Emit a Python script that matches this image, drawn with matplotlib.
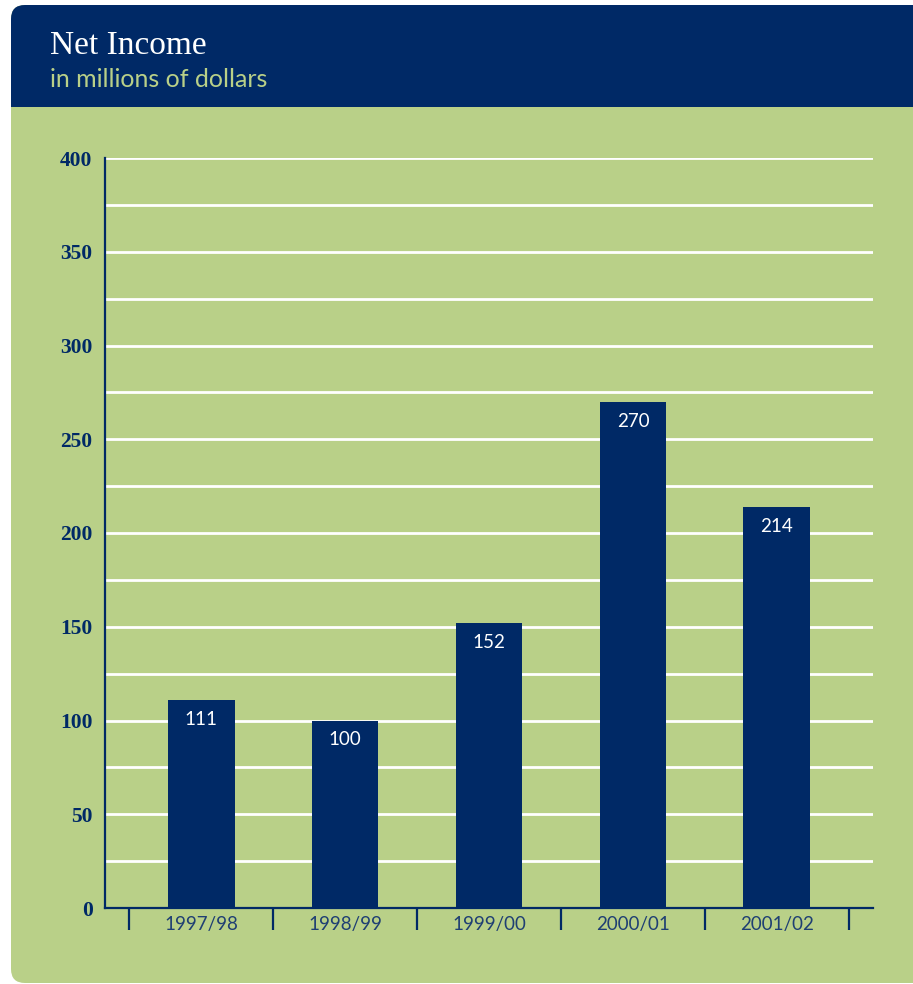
import matplotlib
matplotlib.use("Agg")
import matplotlib.pyplot as plt
from matplotlib.patches import FancyBboxPatch, Rectangle

years = ["1997/98", "1998/99", "1999/00", "2000/01", "2001/02"]
income = [111, 100, 152, 270, 214]
yticks = [0, 50, 100, 150, 200, 250, 300, 350, 400]

NAVY = "#002966"
GREEN = "#b9d088"
W, H = 913, 984

fig = plt.figure(figsize=(W / 100, H / 100), dpi=100, facecolor="white")

# background panels, drawn in pixel coordinates
bg = fig.add_axes([0, 0, 1, 1])
bg.set_xlim(0, W); bg.set_ylim(H, 0)
bg.axis("off")
bg.add_patch(FancyBboxPatch((11, 5), 960, 978, boxstyle="round,pad=0,rounding_size=14",
                            fc=GREEN, ec="none"))
bg.add_patch(FancyBboxPatch((11, 5), 960, 102, boxstyle="round,pad=0,rounding_size=14",
                            fc=NAVY, ec="none"))
bg.add_patch(Rectangle((11, 60), 960, 47, fc=NAVY, ec="none"))
bg.text(50, 54, "Net Income", color="white", fontsize=24,
        family="Liberation Serif", va="baseline")
bg.text(50, 87, "in millions of dollars", color="#b9d088", fontsize=18,
        family="Lato", va="baseline")

# chart axes
ax = fig.add_axes([105 / W, 1 - 908 / H, 768 / W, 750 / H])
ax.patch.set_alpha(0)
x = range(len(years))
for y in range(25, 401, 25):
    ax.axhline(y, color="white", lw=2, zorder=1)
ax.bar(x, income, width=0.465, color=NAVY, zorder=2)
for xi, v in zip(x, income):
    ax.annotate(str(v), (xi, v), xytext=(0, -14), textcoords="offset points",
                ha="center", va="center", color="white", fontsize=13.5,
                family="Lato", zorder=3)

ax.set_xlim(-0.667, 4.667)
ax.set_ylim(0, 400)
for s in ["top", "right"]:
    ax.spines[s].set_visible(False)
for s in ["left", "bottom"]:
    ax.spines[s].set_color(NAVY)
    ax.spines[s].set_linewidth(1.6)

ax.set_yticks(yticks)
ax.set_yticklabels([str(t) for t in yticks], family="Liberation Serif",
                   fontweight="bold", fontsize=15.5, color=NAVY)
ax.tick_params(axis="y", length=0, pad=9)

ax.set_xticks(list(x))
ax.set_xticklabels(years, family="Lato", fontsize=13.5, color="#1f3f73")
ax.set_xticks([i - 0.5 for i in range(len(years) + 1)], minor=True)
ax.tick_params(axis="x", which="major", length=0, pad=6)
ax.tick_params(axis="x", which="minor", length=16, width=1.6, color=NAVY,
               direction="out")

fig.savefig("out.png", dpi=100, facecolor="white")
